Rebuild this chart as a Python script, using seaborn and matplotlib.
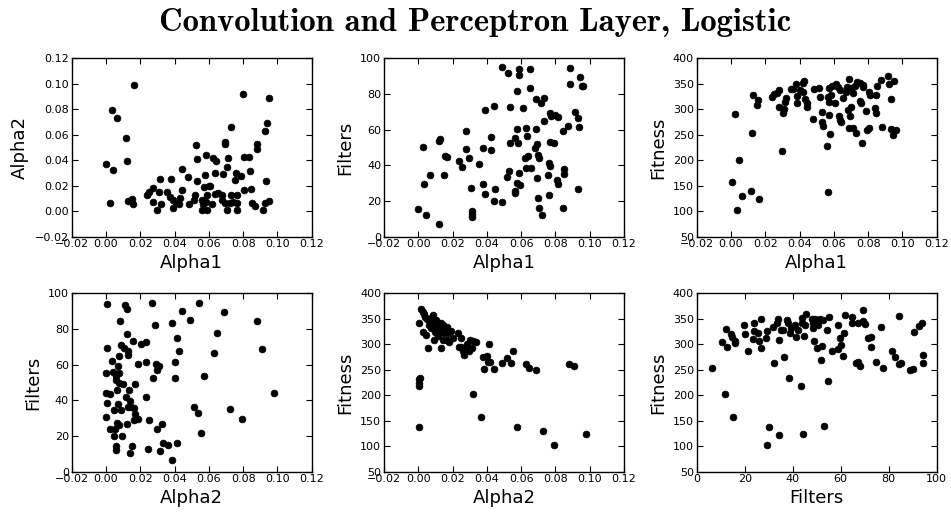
import numpy as np
import pandas as pd
import matplotlib
matplotlib.use("Agg")
import matplotlib.pyplot as plt
import seaborn as sns

# ---- Panel 1: Alpha1 vs Alpha2 ----
p1_alpha1 = [0.000, 0.0043, 0.0025, 0.0033, 0.0066, 0.0117, 0.0121, 0.0166, 0.0126, 0.0149,
             0.0155, 0.0237, 0.0253, 0.0276, 0.0276, 0.0296, 0.0311, 0.0315, 0.0319, 0.0358,
             0.038, 0.0374, 0.039, 0.039, 0.041, 0.0424, 0.0432, 0.0442, 0.0444, 0.0481,
             0.0487, 0.0516, 0.052, 0.053, 0.0526, 0.053, 0.0559, 0.0563, 0.0561, 0.0573,
             0.0575, 0.0581, 0.0585, 0.0589, 0.0589, 0.0598, 0.0608, 0.062, 0.0624, 0.0643,
             0.0633, 0.0637, 0.0651, 0.0676, 0.0676, 0.0681, 0.0693, 0.0693, 0.0697, 0.0703,
             0.0705, 0.0713, 0.0724, 0.0728, 0.073, 0.0743, 0.0753, 0.0759, 0.0763, 0.0767,
             0.0767, 0.0786, 0.0798, 0.0807, 0.0807, 0.0837, 0.0841, 0.0844, 0.085, 0.0869,
             0.0879, 0.0879, 0.0914, 0.0927, 0.0927, 0.0931, 0.0941, 0.0953, 0.0949]
p1_alpha2 = [0.0368, 0.0324, 0.0064, 0.0797, 0.0734, 0.0575, 0.0394, 0.0989, 0.0083, 0.0093,
             0.0059, 0.0130, 0.0154, 0.0180, 0.0075, 0.0007, 0.0147, 0.0253, 0.0057, 0.0147,
             0.0253, 0.0114, 0.0088, 0.0028, 0.0067, 0.0054, 0.0101, 0.0164, 0.0329, 0.0271,
             0.0054, 0.0088, 0.0127, 0.024, 0.0517, 0.041, 0.0088, 0.0057, 0.0009, 0.0193,
             0.0284, 0.0441, 0.0075, 0.0009, 0.0127, 0.0198, 0.0201, 0.0057, 0.0415, 0.0397,
             0.0297, 0.0135, 0.0145, 0.0088, 0.0127, 0.0289, 0.0547, 0.0529, 0.0062, 0.0009,
             0.0349, 0.0415, 0.0062, 0.0127, 0.0658, 0.0075, 0.0245, 0.0302, 0.0009, 0.0127,
             0.0062, 0.0276, 0.0917, 0.0164, 0.0423, 0.0423, 0.0315, 0.0172, 0.0062, 0.0043,
             0.0529, 0.0489, 0.0009, 0.0632, 0.0062, 0.024, 0.0695, 0.0886, 0.008]

# ---- Panel 2: Alpha1 vs Filters ----
p2_alpha1 = [0.000, 0.0025, 0.0035, 0.0045, 0.0068, 0.0122, 0.012, 0.0128, 0.0151, 0.0157,
             0.0165, 0.0239, 0.0254, 0.0276, 0.0276, 0.0295, 0.0305, 0.0316, 0.0316, 0.0316,
             0.0357, 0.0375, 0.0379, 0.0392, 0.0392, 0.0423, 0.0427, 0.0441, 0.0443, 0.0448,
             0.0487, 0.0491, 0.0518, 0.0524, 0.053, 0.0534, 0.0534, 0.0563, 0.0567, 0.0567,
             0.0573, 0.0577, 0.058, 0.0573, 0.0587, 0.0587, 0.059, 0.0592, 0.0608, 0.0623,
             0.0627, 0.0627, 0.0635, 0.0639, 0.0649, 0.0649, 0.0659, 0.0682, 0.0684, 0.0684,
             0.0693, 0.0693, 0.0697, 0.0697, 0.0705, 0.0707, 0.0717, 0.0721, 0.0732, 0.0736,
             0.0757, 0.0761, 0.0763, 0.0767, 0.0771, 0.0767, 0.0777, 0.0790, 0.080, 0.081,
             0.0814, 0.0814, 0.0845, 0.0849, 0.0852, 0.0847, 0.0874, 0.0883, 0.0883, 0.0916,
             0.093, 0.0934, 0.0936, 0.0946, 0.0955, 0.0961]
p2_filters = [15.3, 50.3, 29.3, 12.1, 34.6, 6.9, 53.6, 54.8, 34.6, 45.2,
              44.5, 42.4, 39.1, 59.4, 49.0, 43.9, 27.1, 14.4, 12.5, 11.2,
              40.9, 49.9, 29.3, 70.8, 23.7, 48.6, 55.7, 20.2, 73.3, 26.5,
              95.0, 19.6, 33.6, 91.6, 36.8, 72.9, 52.3, 55.5, 25.8, 24.3,
              60.2, 81.9, 52.3, 30.3, 94.0, 90.7, 35.9, 29.0, 72.0, 43.9,
              38.3, 61.1, 56.6, 45.2, 83.2, 93.8, 38.7, 49.5, 60.2, 77.2,
              32.7, 51.8, 45.8, 21.5, 16.3, 43.9, 75.1, 12.1, 64.9, 77.6,
              34.6, 41.1, 23.4, 69.5, 39.6, 53.3, 67.7, 52.7, 68.2, 31.8,
              29.3, 67.3, 16.3, 35.1, 37.8, 59.4, 62.0, 94.4, 85.4, 69.7,
              66.7, 26.7, 61.3, 89.3, 84.7, 84.7]

# ---- Panel 3: Alpha1 vs Fitness ----
p3_alpha1 = [0.0004, 0.0035, 0.0025, 0.0045, 0.0066, 0.0119, 0.0125, 0.0129, 0.0156, 0.0152,
             0.0166, 0.0238, 0.0251, 0.0267, 0.0281, 0.0279, 0.0296, 0.0302, 0.031, 0.0316,
             0.0321, 0.0351, 0.0364, 0.0378, 0.0383, 0.0387, 0.0403, 0.0418, 0.0422, 0.0426,
             0.0432, 0.0442, 0.0446, 0.0481, 0.0487, 0.0516, 0.052, 0.053, 0.053, 0.0534,
             0.0559, 0.0563, 0.0568, 0.0572, 0.0572, 0.0574, 0.058, 0.0584, 0.0588, 0.0607,
             0.0613, 0.0627, 0.0631, 0.0633, 0.0642, 0.0637, 0.0656, 0.0672, 0.0675, 0.0685,
             0.0687, 0.0689, 0.0695, 0.0699, 0.0701, 0.071, 0.0714, 0.0724, 0.073, 0.0734,
             0.0753, 0.0753, 0.0759, 0.0763, 0.0768, 0.0772, 0.0788, 0.0796, 0.0807, 0.0807,
             0.0811, 0.084, 0.0844, 0.0846, 0.085, 0.0879, 0.0873, 0.0914, 0.0924, 0.0932,
             0.0934, 0.0947, 0.0951, 0.0961]
p3_fitness = [156.6, 103.0, 290.7, 200.5, 129.8, 139.6, 252.8, 327.4, 318.2, 308.4,
              123.3, 324.8, 329.3, 332.6, 337.9, 305.1, 218.1, 292.1, 299.9, 315.0,
              321.5, 339.2, 339.2, 349.0, 313.0, 326.1, 337.9, 334.6, 350.9, 355.5,
              319.5, 311.7, 305.1, 280.3, 339.2, 341.1, 324.8, 295.3, 275.7, 267.2,
              227.9, 324.8, 138.3, 341.1, 288.8, 313.6, 250.8, 328.0, 345.7, 311.7,
              349.0, 344.4, 286.8, 279.0, 275.7, 337.9, 321.5, 334.6, 344.4, 298.6,
              358.8, 262.6, 286.8, 341.1, 305.1, 331.3, 262.6, 345.7, 252.8, 354.2,
              350.9, 317.0, 311.7, 234.5, 347.7, 344.4, 297.3, 259.4, 264.0, 334.6,
              328.0, 301.9, 292.1, 328.0, 345.7, 264.6, 357.5, 366.0, 349.0, 319.5,
              260.7, 249.5, 356.2, 259.4]

# ---- Panel 4: Alpha2 vs Filters ----
p4_alpha2 = [0.0004, 0.0008, 0.0002, 0.0002, 0.0004, 0.0002, 0.0025, 0.0025, 0.0033, 0.0043,
             0.0049, 0.0047, 0.0053, 0.0057, 0.0057, 0.0058, 0.0058, 0.0062, 0.0062, 0.0068,
             0.0072, 0.0074, 0.0076, 0.0076, 0.0078, 0.0082, 0.0086, 0.0086, 0.0092, 0.0097,
             0.0105, 0.0113, 0.0121, 0.0121, 0.0117, 0.0125, 0.0127, 0.0131, 0.0129, 0.0136,
             0.014, 0.014, 0.0146, 0.015, 0.016, 0.0164, 0.017, 0.017, 0.0164, 0.0185,
             0.0187, 0.0203, 0.0234, 0.0234, 0.0234, 0.0244, 0.025, 0.0271, 0.0273, 0.0283,
             0.0289, 0.0296, 0.030, 0.0312, 0.0316, 0.0326, 0.0335, 0.0359, 0.0384, 0.0386,
             0.0403, 0.0403, 0.0413, 0.0413, 0.0423, 0.0442, 0.0491, 0.0511, 0.0536, 0.054,
             0.0553, 0.0573, 0.0628, 0.0647, 0.069, 0.0724, 0.0792, 0.0879, 0.0908, 0.0982]
p4_filters = [93.8, 69.2, 55.1, 43.9, 38.7, 30.5, 23.7, 43.6, 62.2, 55.7,
              34.6, 20.0, 23.7, 14.6, 12.1, 53.6, 51.4, 45.8, 27.1, 59.3,
              37.9, 64.9, 55.5, 49.5, 26.2, 84.5, 71.0, 34.6, 20.0, 49.2,
              69.2, 93.5, 91.0, 77.2, 42.1, 26.7, 36.1, 67.9, 65.4, 45.8,
              10.7, 39.8, 36.1, 14.6, 73.5, 35.5, 49.2, 32.3, 29.0, 29.3,
              60.2, 71.6, 72.9, 61.7, 41.7, 12.7, 29.0, 94.8, 52.3, 82.2,
              60.2, 57.0, 23.7, 59.3, 11.8, 26.5, 16.3, 15.0, 83.2, 6.5,
              61.5, 52.3, 74.8, 15.9, 67.7, 90.3, 85.0, 36.4, 32.7, 94.4,
              21.9, 53.8, 66.7, 77.9, 89.7, 35.0, 29.3, 84.5, 68.6, 44.3]

# ---- Panel 5: Alpha2 vs Fitness ----
p5_alpha2 = [0.0002, 0.0002, 0.0004, 0.0006, 0.0008, 0.0006, 0.0014, 0.0025, 0.0029, 0.0033,
             0.0041, 0.0045, 0.0052, 0.0058, 0.006, 0.0068, 0.0072, 0.0078, 0.0083, 0.0087,
             0.0091, 0.0097, 0.0103, 0.0107, 0.0113, 0.0117, 0.0122, 0.013, 0.013, 0.0136,
             0.0142, 0.0146, 0.015, 0.0155, 0.0165, 0.0169, 0.0175, 0.0181, 0.019, 0.020,
             0.0229, 0.0239, 0.0247, 0.0249, 0.0262, 0.0268, 0.0278, 0.0282, 0.0295, 0.0301,
             0.0311, 0.0317, 0.0321, 0.0336, 0.0363, 0.0379, 0.0384, 0.0398, 0.0408, 0.0414,
             0.0421, 0.0441, 0.0491, 0.0515, 0.0538, 0.0553, 0.0573, 0.0627, 0.0645, 0.0689,
             0.0728, 0.0792, 0.088, 0.0909, 0.0981]
p5_fitness = [137.0, 218.8, 224.7, 231.2, 234.5, 342.4, 368.6, 364.0, 324.8, 358.8,
              354.2, 318.2, 349.0, 292.1, 337.9, 344.4, 331.3, 352.9, 357.5, 341.1,
              308.4, 324.8, 347.7, 334.6, 316.3, 341.1, 324.8, 292.1, 342.4, 331.3,
              337.9, 308.4, 321.5, 328.0, 308.4, 334.6, 322.8, 305.1, 326.7, 311.7,
              321.5, 295.3, 311.7, 295.3, 287.5, 279.0, 292.1, 299.9, 287.5, 308.4,
              292.1, 201.8, 306.4, 305.1, 158.0, 275.7, 250.8, 277.0, 265.9, 300.6,
              265.9, 250.8, 262.6, 273.7, 262.6, 286.8, 138.3, 260.7, 252.8, 249.5,
              130.5, 102.3, 260.7, 257.4, 123.3]

# ---- Panel 6: Filters vs Fitness ----
p6_filters = [6.4, 10.4, 12.1, 12.5, 11.8, 14.2, 14.6, 16.0, 16.0, 15.3,
              19.9, 20.1, 21.5, 23.3, 23.9, 24.0, 25.7, 26.1, 26.8, 26.8,
              28.9, 29.2, 29.2, 30.3, 31.7, 32.4, 33.3, 34.0, 34.4, 34.2,
              35.1, 35.8, 36.4, 37.5, 37.9, 38.5, 38.9, 39.2, 41.0, 41.3,
              42.1, 43.5, 43.8, 44.0, 44.2, 44.7, 45.1, 45.6, 47.9, 48.3,
              48.3, 49.0, 49.3, 50.3, 50.7, 51.4, 51.8, 52.1, 52.5, 53.2,
              54.4, 54.9, 55.3, 56.3, 59.0, 59.0, 59.7, 60.0, 60.8, 61.5,
              61.8, 64.6, 64.9, 66.4, 67.4, 67.4, 68.1, 69.2, 69.4, 70.1,
              71.3, 72.5, 72.5, 74.7, 76.8, 77.5, 81.3, 82.8, 84.3, 84.4,
              85.0, 88.9, 90.3, 90.7, 92.8, 93.8, 94.2, 94.4]
p6_fitness = [252.8, 304.5, 330.0, 295.3, 202.4, 320.2, 315.0, 306.4, 301.9, 158.0,
              337.9, 320.2, 287.5, 309.7, 342.4, 326.1, 321.5, 306.4, 349.0, 293.3,
              311.7, 326.7, 102.3, 137.0, 334.6, 262.6, 341.1, 349.0, 122.0, 308.4,
              328.0, 328.0, 274.4, 347.7, 342.4, 233.2, 321.5, 331.3, 337.9, 315.0,
              328.0, 218.1, 342.4, 350.9, 123.3, 316.3, 337.9, 359.4, 349.0, 342.4,
              331.3, 306.4, 349.0, 292.1, 337.9, 349.0, 269.2, 296.6, 347.7, 139.6,
              328.0, 227.9, 354.2, 287.5, 337.9, 290.1, 311.7, 298.6, 277.0, 321.5,
              357.5, 354.2, 342.4, 262.6, 265.9, 342.4, 257.4, 367.3, 346.4, 339.2,
              311.7, 315.0, 295.3, 264.6, 334.6, 252.8, 287.5, 275.7, 356.2, 261.3,
              263.9, 249.5, 250.8, 324.8, 336.6, 341.1, 263.9, 279.0]

title_text = "Convolution and Perceptron Layer, Logistic"

sns.set_style("white")
plt.rcParams.update({
    "xtick.direction": "in", "ytick.direction": "in",
    "xtick.top": True, "ytick.right": True,
    "xtick.bottom": True, "ytick.left": True,
    "xtick.major.size": 4, "ytick.major.size": 4,
    "xtick.major.width": 0.8, "ytick.major.width": 0.8,
    "axes.edgecolor": "black", "axes.linewidth": 1.0,
    "xtick.labelsize": 8, "ytick.labelsize": 8,
    "xtick.color": "black", "ytick.color": "black",
    "axes.labelsize": 13, "axes.labelcolor": "black",
    "text.color": "black",
})
plt.rcParams["font.family"] = ["DejaVu Sans"]

fig = plt.figure(figsize=(9.51, 5.12), dpi=100)
W, H = 951, 512
lefts = [71.7, 384.0, 696.7]
tops = [58.3, 293.3]
aw, ah = 240.0, 178.4

panels = [
    (p1_alpha1, p1_alpha2, "Alpha1", "Alpha2", (-0.02, 0.12), (-0.02, 0.12)),
    (p2_alpha1, p2_filters, "Alpha1", "Filters", (-0.02, 0.12), (0, 100)),
    (p3_alpha1, p3_fitness, "Alpha1", "Fitness", (-0.02, 0.12), (50, 400)),
    (p4_alpha2, p4_filters, "Alpha2", "Filters", (-0.02, 0.12), (0, 100)),
    (p5_alpha2, p5_fitness, "Alpha2", "Fitness", (-0.02, 0.12), (50, 400)),
    (p6_filters, p6_fitness, "Filters", "Fitness", (0, 100), (50, 400)),
]

for i, (xs, ys, xl, yl, xlim, ylim) in enumerate(panels):
    r, c = divmod(i, 3)
    left = lefts[c] / W
    bottom = 1 - (tops[r] + ah) / H
    ax = fig.add_axes([left, bottom, aw / W, ah / H])
    df = pd.DataFrame({xl: xs, yl: ys})
    sns.scatterplot(data=df, x=xl, y=yl, ax=ax, color="black", s=24,
                    edgecolor="black", linewidth=0.5, legend=False)
    ax.set_xlim(*xlim)
    ax.set_ylim(*ylim)
    if xlim[0] == -0.02:
        ax.set_xticks(np.arange(-0.02, 0.1201, 0.02))
        ax.set_xticklabels([f"{v:.2f}".replace("-", "\u2212") for v in np.arange(-0.02, 0.1201, 0.02)])
    else:
        ax.set_xticks(np.arange(0, 101, 20))
    if ylim == (-0.02, 0.12):
        ax.set_yticks(np.arange(-0.02, 0.1201, 0.02))
        ax.set_yticklabels([f"{v:.2f}".replace("-", "\u2212") for v in np.arange(-0.02, 0.1201, 0.02)])
    elif ylim == (0, 100):
        ax.set_yticks(np.arange(0, 101, 20))
    else:
        ax.set_yticks(np.arange(50, 401, 50))
    ax.set_xlabel(xl, fontsize=13, labelpad=3)
    ax.set_ylabel(yl, fontsize=13, labelpad=4)
    ax.tick_params(pad=2)

fig.text(0.5, 1 - 31 / H, title_text, ha="center", va="baseline",
         fontsize=23.5, fontweight="bold", color="black",
         family=["cmb10", "DejaVu Serif"])

fig.savefig("out.png", dpi=100)
